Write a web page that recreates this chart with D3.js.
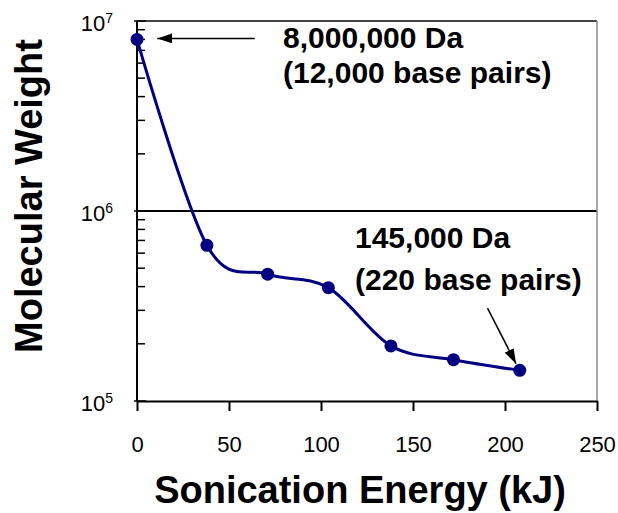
<!DOCTYPE html>
<html>
<head>
<meta charset="utf-8">
<script src="https://cdn.jsdelivr.net/npm/d3@7"></script>
<style>
  body { margin: 0; background: #fff; }
  text { font-family: "Liberation Sans", Arial, sans-serif; }
</style>
</head>
<body>
<script>

// Data
const energy = [0, 38, 71, 104, 138, 172, 208];
const molWeight = [8000000, 660000, 465000, 395000, 195000, 165000, 145000];
const xTicks = [0, 50, 100, 150, 200, 250];
const yExponents = [5, 6, 7];

function drawChart(){

    const width = 618;
    const height = 513;
    const marginTop = 21;
    const marginRight = 21;
    const marginBottom = 112;
    const marginLeft = 137;

    const svg = d3.select("body").append("svg")
        .attr("width", width)
        .attr("height", height)
        .attr("viewBox", [0, 0, width, height]);

    // Scales
    const x = d3.scaleLinear([0, 250], [marginLeft, width - marginRight]);
    const y = d3.scaleLog([1e5, 1e7], [height - marginBottom, marginTop]);

    // arrow head marker
    svg.append("defs").append("marker")
        .attr("id", "head")
        .attr("viewBox", "0 0 15 10")
        .attr("refX", 15)
        .attr("refY", 5)
        .attr("markerWidth", 15)
        .attr("markerHeight", 10)
        .attr("markerUnits", "userSpaceOnUse")
        .attr("orient", "auto")
        .append("path")
        .attr("d", "M0,0L15,5L0,10Z")
        .attr("fill", "#000");

    // Horizontal gridlines at each decade above the bottom
    svg.append("g")
        .selectAll("line")
        .data(yExponents.slice(1))
        .join("line")
        .attr("x1", x(0))
        .attr("x2", x(250))
        .attr("y1", d => y(Math.pow(10, d)))
        .attr("y2", d => y(Math.pow(10, d)))
        .attr("stroke", d => d == 7 ? "#444" : "#000")
        .attr("stroke-width", 2);

    // right border
    svg.append("line")
        .attr("x1", x(250)).attr("x2", x(250))
        .attr("y1", y(1e7)).attr("y2", y(1e5))
        .attr("stroke", "#888")
        .attr("stroke-width", 1.5);

    // x-axis
    svg.append("g")
        .attr("transform", `translate(0,${y(1e5)})`)
        .call(d3.axisBottom(x).tickValues(xTicks).tickSize(10).tickSizeOuter(0).tickPadding(25))
        .call(g => g.select(".domain").attr("stroke-width", 2))
        .call(g => g.selectAll(".tick line").attr("stroke-width", 2))
        .call(g => g.selectAll(".tick text")
            .attr("font-size", 22)
            .attr("font-family", "Liberation Sans, Arial, sans-serif"));

    // y-axis with log minor ticks
    const yAxis = svg.append("g");
    yAxis.append("line")
        .attr("x1", x(0)).attr("x2", x(0))
        .attr("y1", y(1e7)).attr("y2", y(1e5))
        .attr("stroke", "#000")
        .attr("stroke-width", 2);

    yAxis.selectAll(".minor")
        .data(y.ticks())
        .join("line")
        .attr("x1", d => Number.isInteger(Math.log10(d)) ? x(0) - 3 : x(0))
        .attr("x2", d => Number.isInteger(Math.log10(d)) ? x(0) + 9 : x(0) + 8)
        .attr("y1", d => y(d))
        .attr("y2", d => y(d))
        .attr("stroke", "#000")
        .attr("stroke-width", 1.5);

    const ylab = yAxis.selectAll(".ylab")
        .data(yExponents)
        .join("text")
        .attr("x", x(0) - 24)
        .attr("y", d => y(Math.pow(10, d)) + 10)
        .attr("text-anchor", "end")
        .attr("font-size", 22);
    ylab.append("tspan").text("10");
    ylab.append("tspan")
        .attr("dy", -8)
        .attr("font-size", 14)
        .text(d => d);

    // Smoothed line through the points
    const line = d3.line()
        .x((d, i) => x(energy[i]))
        .y(d => y(d))
        .curve(d3.curveCardinal.tension(0));

    svg.append("path")
        .attr("fill", "none")
        .attr("stroke", "#000080")
        .attr("stroke-width", 3)
        .attr("d", line(molWeight));

    svg.append("g")
        .selectAll("circle")
        .data(molWeight)
        .join("circle")
        .attr("cx", (d, i) => x(energy[i]))
        .attr("cy", d => y(d))
        .attr("r", 6.5)
        .attr("fill", "#000080");

    // Annotations
    svg.append("line")
        .attr("x1", x(64)).attr("y1", y(8100000))
        .attr("x2", x(11)).attr("y2", y(8100000))
        .attr("stroke", "#000")
        .attr("stroke-width", 1.5)
        .attr("marker-end", "url(#head)");

    svg.append("line")
        .attr("x1", x(190.5)).attr("y1", y(308000))
        .attr("x2", x(206)).attr("y2", y(157000))
        .attr("stroke", "#000")
        .attr("stroke-width", 1.5)
        .attr("marker-end", "url(#head)");

    const notes = [
        {t: "8,000,000 Da", x: 283, y: 48},
        {t: "(12,000 base pairs)", x: 283, y: 83},
        {t: "145,000 Da", x: 355, y: 248},
        {t: "(220 base pairs)", x: 355, y: 290}
    ];
    svg.append("g")
        .selectAll("text")
        .data(notes)
        .join("text")
        .attr("x", d => d.x)
        .attr("y", d => d.y)
        .attr("font-size", 30)
        .attr("font-weight", "bold")
        .text(d => d.t);

    // Axis titles
    svg.append("text")
        .attr("x", 360)
        .attr("y", 503)
        .attr("text-anchor", "middle")
        .attr("font-size", 38)
        .attr("font-weight", "bold")
        .text("Sonication Energy (kJ)");

    svg.append("text")
        .attr("transform", "translate(42,196) rotate(-90)")
        .attr("text-anchor", "middle")
        .attr("font-size", 38)
        .attr("font-weight", "bold")
        .text("Molecular Weight");
}

drawChart();
</script>
</body>
</html>
